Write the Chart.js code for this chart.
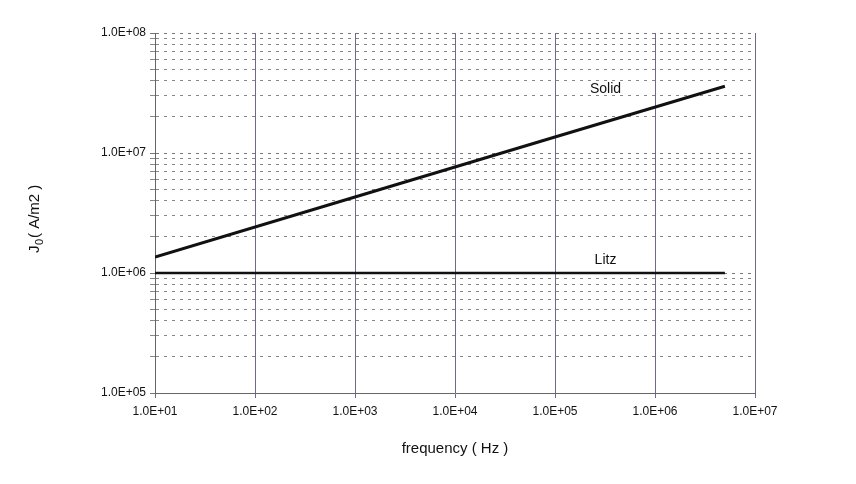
<!DOCTYPE html>
<html><head><meta charset="utf-8">
<script src="https://cdn.jsdelivr.net/npm/chart.js@4"></script>
<style>body{margin:0;background:#fff}#wrap{width:856px;height:484px}</style>
</head><body><div id="wrap"><canvas id="c"></canvas></div>
<script>
const freq = [10, 1000, 100000, 5000000];
const solid = [1.36e6, 4.3e6, 1.36e7, 3.6e7];
const litz = [1e6, 1e6, 1e6, 1e6];
const seriesNames = ["Solid", "Litz"];
const xTicks = [1e1, 1e2, 1e3, 1e4, 1e5, 1e6, 1e7];
const yDecades = [1e5, 1e6, 1e7, 1e8];

const fmt = v => {
  const e = Math.round(Math.log10(v));
  return "1.0E+" + String(e).padStart(2, "0");
};
const isDecade = v => Math.abs(Math.log10(v) - Math.round(Math.log10(v))) < 1e-9;

const labels = {
  id: "labels",
  afterDatasetsDraw(chart) {
    const {ctx, scales: {x, y}} = chart;
    ctx.save();
    ctx.fillStyle = "#111";
    ctx.font = "14px 'Liberation Sans', Arial";
    ctx.textAlign = "center";
    ctx.textBaseline = "bottom";
    ctx.fillText(seriesNames[0], x.getPixelForValue(3.2e5), y.getPixelForValue(3.0e7));
    ctx.fillText(seriesNames[1], x.getPixelForValue(3.2e5), y.getPixelForValue(1.12e6));
    // y title with subscript
    ctx.translate(35, 213);
    ctx.rotate(-Math.PI / 2);
    ctx.textAlign = "left";
    ctx.textBaseline = "middle";
    ctx.font = "15px 'Liberation Sans', Arial";
    ctx.fillText("J", -40, 0);
    ctx.font = "11px 'Liberation Sans', Arial";
    ctx.fillText("0", -32, 5);
    ctx.font = "15px 'Liberation Sans', Arial";
    ctx.fillText("( A/m2 )", -25, 0);
    ctx.restore();
  }
};

new Chart(document.getElementById("c"), {
  type: "line",
  data: {
    labels: freq,
    datasets: [
      {label: seriesNames[0], data: freq.map((f, i) => ({x: f, y: solid[i]})), borderColor: "#111", borderWidth: 3, pointRadius: 0},
      {label: seriesNames[1], data: freq.map((f, i) => ({x: f, y: litz[i]})), borderColor: "#111", borderWidth: 2.5, pointRadius: 0}
    ]
  },
  options: {
    responsive: true, maintainAspectRatio: false, animation: false,
    layout: {padding: {top: 33, right: 101, left: 0, bottom: 22}},
    plugins: {legend: {display: false}, tooltip: {enabled: false}},
    scales: {
      x: {
        type: "logarithmic", min: 1e1, max: 1e7,
        afterBuildTicks: s => { s.ticks = xTicks.map(v => ({value: v})); },
        afterFit: s => { s.height = 69; },
        ticks: {callback: v => fmt(v), color: "#111", font: {size: 12, family: "'Liberation Sans', Arial"}, maxRotation: 0, padding: 6},
        grid: {color: "#75668c", lineWidth: 1, drawTicks: true, tickLength: 5},
        border: {color: "#666"},
        title: {display: true, text: "frequency ( Hz )", color: "#111", font: {size: 15, family: "'Liberation Sans', Arial"}, padding: {top: 4}}
      },
      y: {
        type: "logarithmic", min: 1e5, max: 1e8,
        afterBuildTicks: s => {
          const t = [];
          for (let e = 5; e < 8; e++) for (let m = 1; m < 10; m++) t.push({value: m * Math.pow(10, e)});
          t.push({value: 1e8});
          s.ticks = t;
        },
        afterFit: s => { s.width = 155; },
        ticks: {callback: v => yDecades.includes(v) ? fmt(v) : "", autoSkip: false, color: "#111", font: {size: 12, family: "'Liberation Sans', Arial"}, padding: 4},
        grid: {
          color: c => isDecade(c.tick.value) ? "#777" : "#888",
          lineWidth: 1,
          tickLength: 5
        },
        border: {color: "#666", dash: [3, 5]}
      }
    }
  },
  plugins: [labels]
});
</script></body></html>
